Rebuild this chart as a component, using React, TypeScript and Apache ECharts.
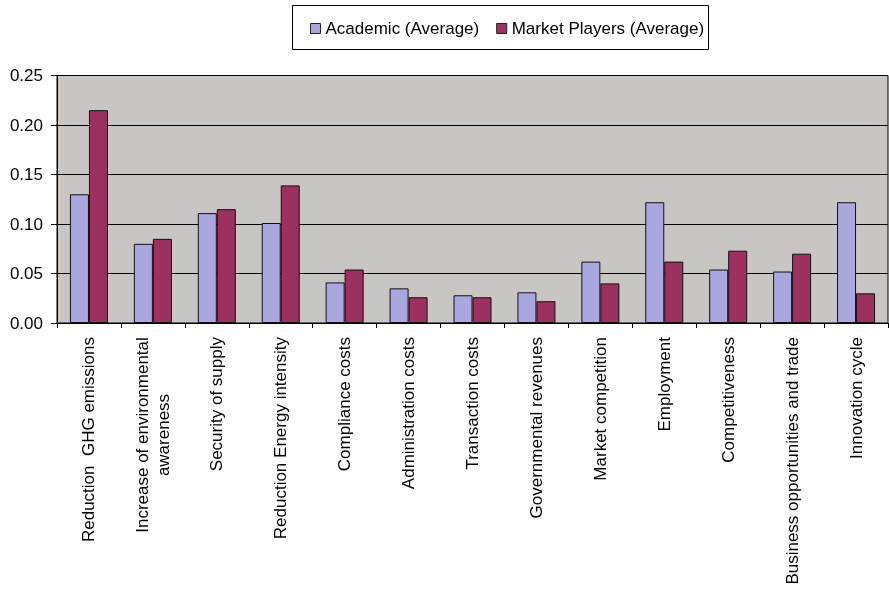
import React, { useEffect, useRef } from "react";
import * as echarts from "echarts";

const categories = [
  "Reduction  GHG emissions",
  "Increase of environmental\nawareness",
  "Security of supply",
  "Reduction Energy intensity",
  "Compliance costs",
  "Administration costs",
  "Transaction costs",
  "Governmental revenues",
  "Market competition",
  "Employment",
  "Competitiveness",
  "Business opportunities and trade",
  "Innovation cycle",
];

const academic = [0.13, 0.08, 0.111, 0.101, 0.041, 0.035, 0.028, 0.031, 0.062, 0.122, 0.054, 0.052, 0.122];
const marketPlayers = [0.215, 0.085, 0.115, 0.139, 0.054, 0.026, 0.026, 0.022, 0.04, 0.062, 0.073, 0.07, 0.03];

const yTicks = { min: 0, max: 0.25, interval: 0.05 };

const FONT = "'Liberation Sans', Arial, sans-serif";

export default function App() {
  const ref = useRef<HTMLDivElement>(null);

  useEffect(() => {
    if (!ref.current) return;
    const chart = echarts.init(ref.current, null, { renderer: "svg" });
    chart.setOption({
      animation: false,
      textStyle: { fontFamily: FONT },
      graphic: [
        {
          type: "rect",
          shape: { x: 292.5, y: 5.5, width: 416, height: 44 },
          style: { fill: "#ffffff", stroke: "#000000", lineWidth: 1 },
          z: -1,
        },
      ],
      legend: {
        left: 305,
        top: 15,
        icon: "rect",
        itemWidth: 10,
        itemHeight: 10,
        itemGap: 17,
        textStyle: { fontSize: 17, color: "#000", fontFamily: FONT },
        itemStyle: { borderColor: "#222", borderWidth: 1 },
        data: ["Academic (Average)", "Market Players (Average)"],
      },
      grid: {
        left: 57,
        right: 1,
        top: 75.5,
        bottom: 268,
        show: true,
        backgroundColor: "#C9C5C3",
        borderColor: "#000",
        borderWidth: 1,
      },
      xAxis: {
        type: "category",
        data: categories,
        boundaryGap: true,
        axisLine: { lineStyle: { color: "#000", width: 1 } },
        axisTick: { show: true, length: 5, lineStyle: { color: "#000" } },
        axisLabel: {
          interval: 0,
          rotate: 90,
          margin: 14,
          fontSize: 17,
          color: "#000",
          fontFamily: FONT,
          lineHeight: 21,
          formatter: (v: string) =>
            v.includes("\n")
              ? v
                  .split("\n")
                  .map((l) => `{c|${l}}`)
                  .join("\n")
              : v,
          rich: {
            c: {
              width: 196,
              align: "center",
              fontSize: 17,
              lineHeight: 21,
              color: "#000",
              fontFamily: FONT,
            },
          },
        },
      },
      yAxis: {
        type: "value",
        min: yTicks.min,
        max: yTicks.max,
        interval: yTicks.interval,
        axisLine: { show: true, lineStyle: { color: "#000", width: 1 } },
        axisTick: { show: true, length: 6, lineStyle: { color: "#000" } },
        axisLabel: {
          margin: 14,
          fontSize: 17,
          color: "#000",
          fontFamily: FONT,
          formatter: (v: number) => v.toFixed(2),
        },
        splitLine: { show: true, lineStyle: { color: "#000", width: 1 } },
      },
      series: [
        {
          name: "Academic (Average)",
          type: "bar",
          data: academic,
          barWidth: 19,
          barGap: "0%",
          itemStyle: { color: "#AAA6E0", borderColor: "#111", borderWidth: 1 },
        },
        {
          name: "Market Players (Average)",
          type: "bar",
          data: marketPlayers,
          barWidth: 19,
          barGap: "0%",
          itemStyle: { color: "#9C3060", borderColor: "#111", borderWidth: 1 },
        },
      ],
    });
    return () => chart.dispose();
  }, []);

  return (
    <div
      ref={ref}
      style={{ position: "fixed", left: 0, top: 0, width: 889, height: 591 }}
    />
  );
}
